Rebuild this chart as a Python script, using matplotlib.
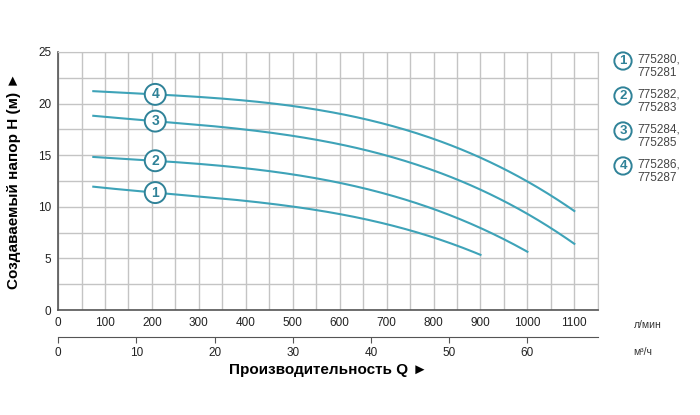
import numpy as np
import matplotlib
matplotlib.use('Agg')
from matplotlib import pyplot as plt

plt.rcParams['font.family'] = ['Liberation Sans', 'DejaVu Sans']

# данные кривых: расход (л/мин) и напор (м)
q1 = [75, 200, 300, 400, 500, 600, 700, 800, 900]
h1 = [11.9, 11.5, 11.0, 10.5, 10.0, 9.3, 8.3, 7.1, 5.3]
q2 = [75, 200, 300, 400, 500, 600, 700, 800, 900, 1000]
h2 = [14.8, 14.5, 14.2, 13.7, 13.1, 12.3, 11.2, 9.8, 8.0, 5.6]
q3 = [75, 200, 300, 400, 500, 600, 700, 800, 900, 1000, 1100]
h3 = [18.8, 18.3, 18.0, 17.5, 16.8, 16.0, 15.0, 13.5, 11.7, 9.3, 6.4]
q4 = [75, 200, 300, 400, 500, 600, 700, 800, 900, 1000, 1100]
h4 = [21.2, 20.9, 20.6, 20.3, 19.8, 19.0, 17.9, 16.6, 14.8, 12.4, 9.6]

curve_ids = ['1', '2', '3', '4']
label_q = 207
models = ['775280,\n775281', '775282,\n775283', '775284,\n775285', '775286,\n775287']

line_color = '#3ea3b8'
circle_color = '#2f8298'

fig = plt.figure(figsize=(7, 4.15), dpi=100)
ax = fig.add_axes([0.083, 0.253, 0.771, 0.622])

for q, h, cid in zip([q1, q2, q3, q4], [h1, h2, h3, h4], curve_ids):
    q = np.array(q)
    h = np.array(h)
    # сглаживаем точки полиномом 3-й степени
    coef = np.polyfit(q, h, 3)
    qq = np.linspace(q[0], q[-1], 200)
    ax.plot(qq, np.polyval(coef, qq), color=line_color, lw=1.5, zorder=3)
    ax.text(label_q, np.polyval(coef, label_q), cid, ha='center', va='center',
            fontsize=10, fontweight='bold', color=circle_color, zorder=5,
            bbox=dict(boxstyle='circle,pad=0.25', fc='white', ec=circle_color, lw=1.4))

ax.set_xlim(0, 1150)
ax.set_ylim(0, 25)
ax.set_xticks(np.arange(0, 1101, 100))
ax.set_xticks(np.arange(0, 1151, 50), minor=True)
ax.set_yticks(np.arange(0, 26, 5))
ax.set_yticks(np.arange(0, 25.1, 2.5), minor=True)
ax.grid(which='both', color='#c4c4c4', lw=1.0)
ax.set_axisbelow(True)
ax.tick_params(which='both', length=0, labelsize=8.5, pad=5, colors='#222222')
for s in ['top', 'right']:
    ax.spines[s].set_color('#c4c4c4')
for s in ['left', 'bottom']:
    ax.spines[s].set_color('#555555')
    ax.spines[s].set_linewidth(1.2)

ax.set_ylabel('Создаваемый напор H (м) ►', fontsize=11, fontweight='bold', labelpad=12)

# вторая шкала м3/ч
sec = ax.secondary_xaxis('bottom', functions=(lambda x: x * 0.06, lambda x: x / 0.06))
sec.spines['bottom'].set_position(('outward', 19.5))
sec.spines['bottom'].set_color('#555555')
sec.set_xticks(np.arange(0, 61, 10))
sec.tick_params(direction='out', length=4, color='#555555', labelsize=8.5, pad=3, labelcolor='#222222')
sec.set_xlabel('Производительность Q ►', fontsize=11, fontweight='bold', labelpad=3)

fig.text(0.905, 0.216, 'л/мин', fontsize=7.5, ha='left', va='center', color='#333333')
fig.text(0.905, 0.152, 'м³/ч', fontsize=7.5, ha='left', va='center', color='#333333')

# легенда справа
for i, (cid, m) in enumerate(zip(curve_ids, models)):
    y = 0.853 - i * 0.0843
    fig.text(0.89, y, cid, ha='center', va='center', fontsize=9.5,
             fontweight='bold', color=circle_color,
             bbox=dict(boxstyle='circle,pad=0.2', fc='white', ec=circle_color, lw=1.4))
    fig.text(0.911, y - 0.012, m, ha='left', va='center', fontsize=8.5,
             color='#444444', linespacing=1.15)

plt.savefig('out.png', dpi=100, facecolor='white')
